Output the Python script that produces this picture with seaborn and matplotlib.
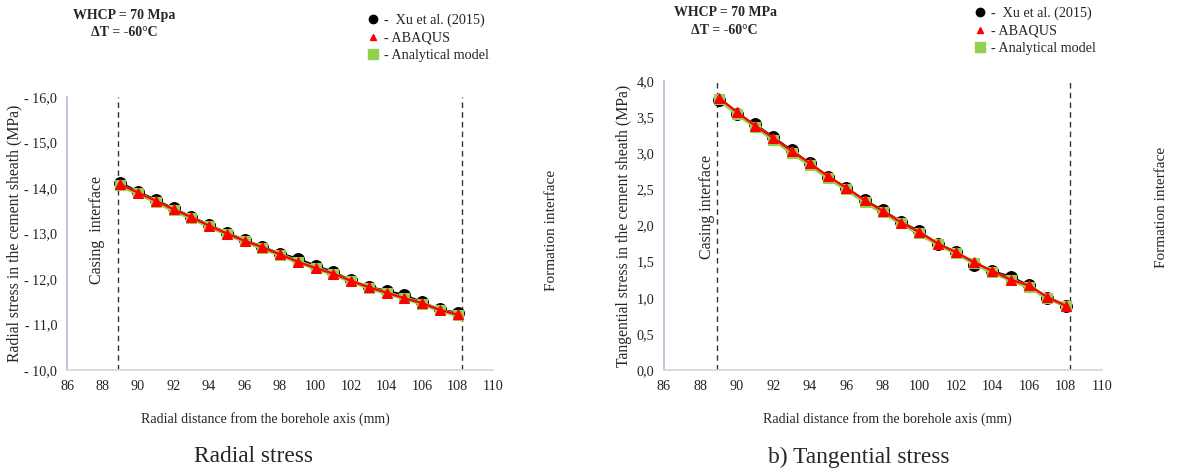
import matplotlib
matplotlib.use("Agg")
import matplotlib.pyplot as plt
from matplotlib.lines import Line2D
from matplotlib.ticker import FuncFormatter, MultipleLocator
import pandas as pd
import seaborn as sns

# radial distance from the borehole axis (mm)
radius = [89, 90, 91, 92, 93, 94, 95, 96, 97, 98,
          99, 100, 101, 102, 103, 104, 105, 106, 107, 108]

# radial stress (MPa)
radial_xu = [-14.12, -13.92, -13.74, -13.55, -13.37, -13.19, -13.02, -12.86, -12.71, -12.56,
             -12.45, -12.29, -12.16, -11.97, -11.83, -11.74, -11.65, -11.49, -11.33, -11.26]
radial_abaqus = [-14.08, -13.90, -13.72, -13.53, -13.36, -13.17, -13.00, -12.84, -12.70, -12.54,
                 -12.38, -12.24, -12.12, -11.96, -11.82, -11.70, -11.58, -11.47, -11.32, -11.22]
radial_model = [-14.06, -13.88, -13.70, -13.51, -13.34, -13.16, -12.99, -12.83, -12.68, -12.53,
                -12.38, -12.24, -12.11, -11.95, -11.81, -11.69, -11.58, -11.46, -11.31, -11.21]

# tangential stress (MPa)
tang_xu = [3.74, 3.54, 3.40, 3.22, 3.04, 2.86, 2.67, 2.52, 2.35, 2.21,
           2.05, 1.92, 1.74, 1.64, 1.46, 1.37, 1.29, 1.17, 1.00, 0.88]
tang_abaqus = [3.77, 3.57, 3.38, 3.21, 3.03, 2.86, 2.68, 2.52, 2.35, 2.20,
               2.04, 1.91, 1.75, 1.63, 1.49, 1.37, 1.25, 1.17, 1.01, 0.89]
tang_model = [3.75, 3.55, 3.37, 3.19, 3.01, 2.84, 2.66, 2.50, 2.33, 2.18,
              2.03, 1.89, 1.74, 1.62, 1.48, 1.35, 1.25, 1.15, 1.00, 0.89]

casing_r = 88.9
formation_r = 108.25

sns.set_theme(style="white")
plt.rcParams["font.family"] = ["Liberation Serif", "DejaVu Serif"]

BLACK = "#000000"
RED = "#ff0000"
GREEN = "#92d050"


def draw_panel(ax, xu, abaqus, model):
    df = pd.DataFrame({"r": radius, "xu": xu, "abaqus": abaqus, "model": model})
    sns.lineplot(data=df, x="r", y="xu", ax=ax, color=BLACK, lw=1.5, marker="o",
                 markersize=8.5, markeredgecolor=BLACK, zorder=3)
    sns.lineplot(data=df, x="r", y="model", ax=ax, color=GREEN, lw=3, marker="s",
                 markersize=7.5, markeredgecolor=GREEN, zorder=4)
    sns.lineplot(data=df, x="r", y="abaqus", ax=ax, color=RED, lw=1.6, marker="^",
                 markersize=7.5, markeredgecolor=RED, zorder=5)
    for xv in (casing_r, formation_r):
        ax.axvline(xv, color="#333333", ls=(0, (4, 3)), lw=1.0, zorder=2)
    ax.set_xlim(86, 110)
    ax.xaxis.set_major_locator(MultipleLocator(2))
    for side in ("top", "right"):
        ax.spines[side].set_visible(False)
    ax.spines["left"].set_color("#b4c0d2")
    ax.spines["bottom"].set_color("#d6d6d6")
    ax.tick_params(length=0, labelsize=10.2, pad=7, colors="#222222")
    ax.set_xlabel("Radial distance from the borehole axis (mm)", fontsize=10)
    ax.set_ylabel("")


def add_legend(fig, x, y):
    handles = [
        Line2D([], [], ls="none", marker="o", color=BLACK, markersize=6),
        Line2D([], [], ls="none", marker="^", color=RED, markersize=5),
        Line2D([], [], ls="none", marker="s", color=GREEN, markersize=6.5),
    ]
    labels = ["-  Xu et al. (2015)", "- ABAQUS", "- Analytical model"]
    fig.legend(handles, labels, loc="upper left", bbox_to_anchor=(x, y),
               frameon=False, fontsize=10.2, handlelength=0.6, handletextpad=0.45,
               labelspacing=0.3, borderpad=0, borderaxespad=0)


fig = plt.figure(figsize=(11.93, 4.71), dpi=100)
W, H = 1193, 471
ax1 = fig.add_axes([67 / W, 1 - 370 / H, 426 / W, 273 / H])
ax2 = fig.add_axes([664 / W, 1 - 370 / H, 438 / W, 289 / H])

# radial panel (compressive values, axis drawn from -16 at top to -10 at bottom)
draw_panel(ax1, radial_xu, radial_abaqus, radial_model)
ax1.set_ylim(-10, -16)
ax1.yaxis.set_major_locator(MultipleLocator(1))
ax1.yaxis.set_major_formatter(FuncFormatter(lambda v, p: "- " + f"{abs(v):.1f}".replace(".", ",")))
ax1.set_ylabel("Radial stress in the cement sheath (MPa)", fontsize=11.3)
ax1.xaxis.set_label_coords(0.465, -0.154)
ax1.yaxis.set_label_coords(-0.104, 0.5)
ax1.text(0.07, 0.513, "Casing  interface", transform=ax1.transAxes, rotation=90,
         ha="center", va="center", fontsize=11.5)
ax1.text(1.138, 0.51, "Formation interface", transform=ax1.transAxes, rotation=90,
         ha="center", va="center", fontsize=11)

# tangential panel
draw_panel(ax2, tang_xu, tang_abaqus, tang_model)
ax2.set_ylim(0, 4)
ax2.yaxis.set_major_locator(MultipleLocator(0.5))
ax2.yaxis.set_major_formatter(FuncFormatter(lambda v, p: f"{v:.1f}".replace(".", ",")))
ax2.set_ylabel("Tangential stress in the cement sheath (MPa)", fontsize=11.3)
ax2.xaxis.set_label_coords(0.511, -0.145)
ax2.yaxis.set_label_coords(-0.072, 0.5)
ax2.text(0.098, 0.564, "Casing interface", transform=ax2.transAxes, rotation=90,
         ha="center", va="center", fontsize=11.5)
ax2.text(1.136, 0.564, "Formation interface", transform=ax2.transAxes, rotation=90,
         ha="center", va="center", fontsize=11)

# load case annotations
fig.text(124 / W, 1 - 16 / H, "WHCP = 70 Mpa", ha="center", va="center",
         fontsize=10, fontweight="bold")
fig.text(124 / W, 1 - 33 / H, "\u0394T = -60\u00b0C", ha="center", va="center",
         fontsize=10, fontweight="bold")
fig.text(725 / W, 1 - 13 / H, "WHCP = 70 MPa", ha="center", va="center",
         fontsize=10, fontweight="bold")
fig.text(724 / W, 1 - 31 / H, "\u0394T = -60\u00b0C", ha="center", va="center",
         fontsize=10, fontweight="bold")

add_legend(fig, 369 / W, 1 - 14 / H)
add_legend(fig, 976 / W, 1 - 7 / H)

# panel captions
fig.text(254 / W, 1 - 457 / H, "Radial stress", ha="center", va="center", fontsize=16.8)
fig.text(859 / W, 1 - 457 / H, "b) Tangential stress", ha="center", va="center", fontsize=16.8)

fig.savefig("out.png", dpi=100)
